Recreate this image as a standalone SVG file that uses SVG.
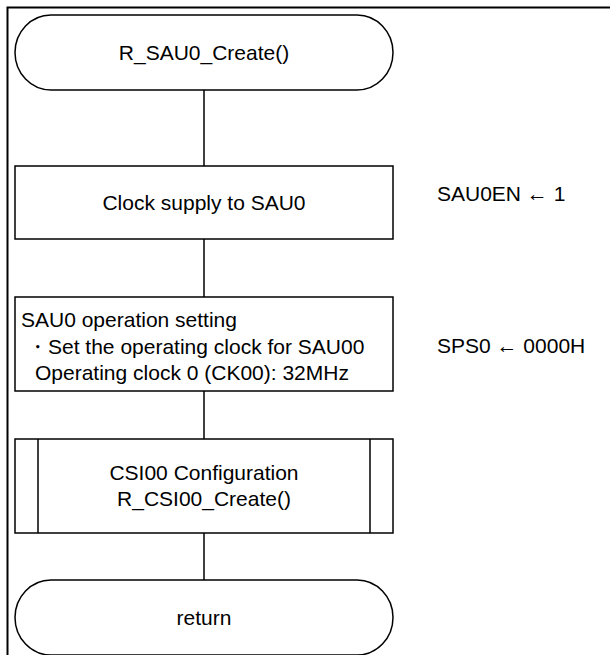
<svg xmlns="http://www.w3.org/2000/svg" width="610" height="655" viewBox="0 0 610 655">
<style>
.s{fill:#fff;stroke:#000;stroke-width:1.5}
.c{fill:none;stroke:#000;stroke-width:1.5}
text{font-family:"Liberation Sans",Arial,sans-serif;font-size:21px;fill:#000}
.m{text-anchor:middle}
</style>
<rect width="610" height="655" fill="#fff"/>
<path d="M7.5,655 V7.5 H610" fill="none" stroke="#000" stroke-width="2"/>
<g id="connectors">
<line class="c" x1="204" y1="90" x2="204" y2="166"/>
<line class="c" x1="204" y1="239" x2="204" y2="297"/>
<line class="c" x1="204" y1="391" x2="204" y2="439"/>
<line class="c" x1="204" y1="533" x2="204" y2="580"/>
</g>
<g id="start">
<rect class="s" x="15" y="15" width="378" height="75" rx="36" ry="37.5"/>
<text class="m" x="204" y="60">R_SAU0_Create()</text>
</g>
<g id="clock">
<rect class="s" x="15" y="166" width="378" height="73"/>
<text class="m" x="204" y="210">Clock supply to SAU0</text>
</g>
<text id="note1" x="437" y="201">SAU0EN ← 1</text>
<g id="sau0">
<rect class="s" x="15" y="297" width="378" height="94"/>
<text x="21" y="327">SAU0 operation setting</text>
<text x="27" y="354">・Set the operating clock for SAU00</text>
<text x="35" y="380">Operating clock 0 (CK00): 32MHz</text>
</g>
<text id="note2" x="437" y="353">SPS0 ← 0000H</text>
<g id="csi">
<rect class="s" x="15" y="439" width="378" height="94"/>
<line class="c" x1="38" y1="439" x2="38" y2="533"/>
<line class="c" x1="370" y1="439" x2="370" y2="533"/>
<text class="m" x="204" y="480">CSI00 Configuration</text>
<text class="m" x="204" y="506">R_CSI00_Create()</text>
</g>
<g id="return">
<rect class="s" x="15" y="580" width="378" height="75" rx="36" ry="37.5"/>
<text class="m" x="204" y="625">return</text>
</g>
</svg>
